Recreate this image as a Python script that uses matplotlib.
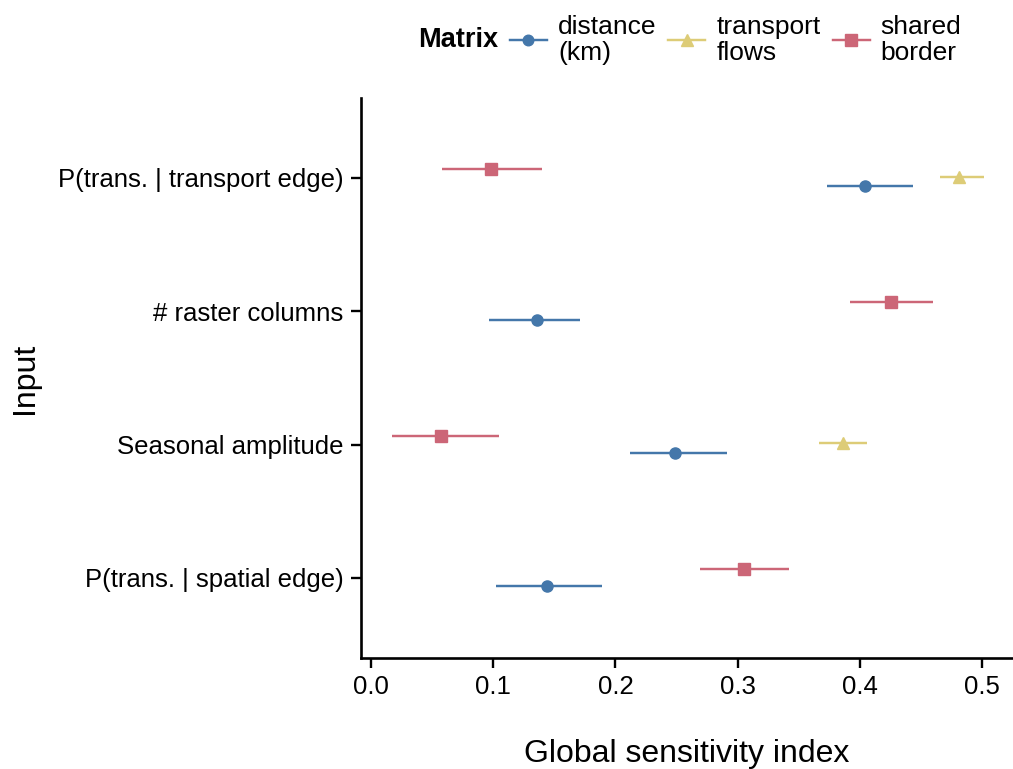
import numpy as np
import matplotlib
matplotlib.use("Agg")
import matplotlib.pyplot as plt
from matplotlib.lines import Line2D

plt.rcParams['font.family'] = ['Liberation Sans', 'DejaVu Sans']

inputs = ["P(trans. | transport edge)", "# raster columns",
          "Seasonal amplitude", "P(trans. | spatial edge)"]

dist_est = [0.404, 0.136, 0.249, 0.144]
dist_lo = [0.373, 0.097, 0.212, 0.102]
dist_hi = [0.443, 0.171, 0.291, 0.189]

flow_est = [0.481, np.nan, 0.386, np.nan]
flow_lo = [0.465, np.nan, 0.366, np.nan]
flow_hi = [0.501, np.nan, 0.406, np.nan]

border_est = [0.098, 0.425, 0.057, 0.305]
border_lo = [0.058, 0.392, 0.017, 0.269]
border_hi = [0.140, 0.460, 0.105, 0.342]

series = [
    ("distance\n(km)", dist_est, dist_lo, dist_hi, "#4477AA", "o", 8, -0.062),
    ("transport\nflows", flow_est, flow_lo, flow_hi, "#DDCC77", "^", 8.5, 0.01),
    ("shared\nborder", border_est, border_lo, border_hi, "#CC6677", "s", 8.5, 0.068),
]

W, H = 1013, 769
fig = plt.figure(figsize=(W/100, H/100), dpi=100)
ax_l, ax_t, ax_b = 361, 98, 658
ax = fig.add_axes([ax_l/W, 1-ax_b/H, 1-ax_l/W, (ax_b-ax_t)/H])

ypos = np.arange(len(inputs), 0, -1).astype(float)

handles = []
for label, est, lo, hi, col, mk, ms, off in series:
    est = np.array(est); lo = np.array(lo); hi = np.array(hi)
    m = ~np.isnan(est)
    y = ypos[m] + off
    ax.errorbar(est[m], y, xerr=[est[m]-lo[m], hi[m]-est[m]], fmt=mk,
                color=col, ms=ms, elinewidth=1.75, capsize=0, mec=col)
    handles.append(Line2D([0], [0], color=col, marker=mk, ms=ms*0.95, lw=1.75, label=label))

ax.set_xlim(-0.008, 0.525)
ax.set_ylim(0.4, 4.6)
ax.set_yticks(ypos)
ax.set_yticklabels(inputs)
ax.set_xticks([0.0, 0.1, 0.2, 0.3, 0.4, 0.5])
ax.set_xticklabels(["0.0", "0.1", "0.2", "0.3", "0.4", "0.5"])

for s in ["top", "right"]:
    ax.spines[s].set_visible(False)
for s in ["left", "bottom"]:
    ax.spines[s].set_linewidth(1.9)
    ax.spines[s].set_color("black")
ax.tick_params(axis="both", length=7.2, width=1.7, colors="black", labelsize=18.5)
ax.tick_params(axis="y", pad=5.5)
ax.tick_params(axis="x", pad=5.0)

ax_h = ax_b - ax_t
ax.set_xlabel("Global sensitivity index", fontsize=23, va="baseline")
ax.xaxis.set_label_coords(0.5, ((H - 762) - (H - ax_b)) / ax_h)
ax.set_ylabel("Input", fontsize=23, va="center")
ax.yaxis.set_label_coords((25 - ax_l) / (W - ax_l), 0.5)

fig.text(418/W, 1-40/H, "Matrix", fontsize=19.5, fontweight="bold", va="center", ha="left")
leg = fig.legend(handles=handles, loc="center left", bbox_to_anchor=(510/W, 1-40/H),
                 ncol=3, frameon=False, fontsize=19, handlelength=1.4,
                 handletextpad=0.42, columnspacing=0.45, borderaxespad=0, borderpad=0)
for t in leg.get_texts():
    t.set_linespacing(1.15)

fig.savefig("out.png", dpi=100)
